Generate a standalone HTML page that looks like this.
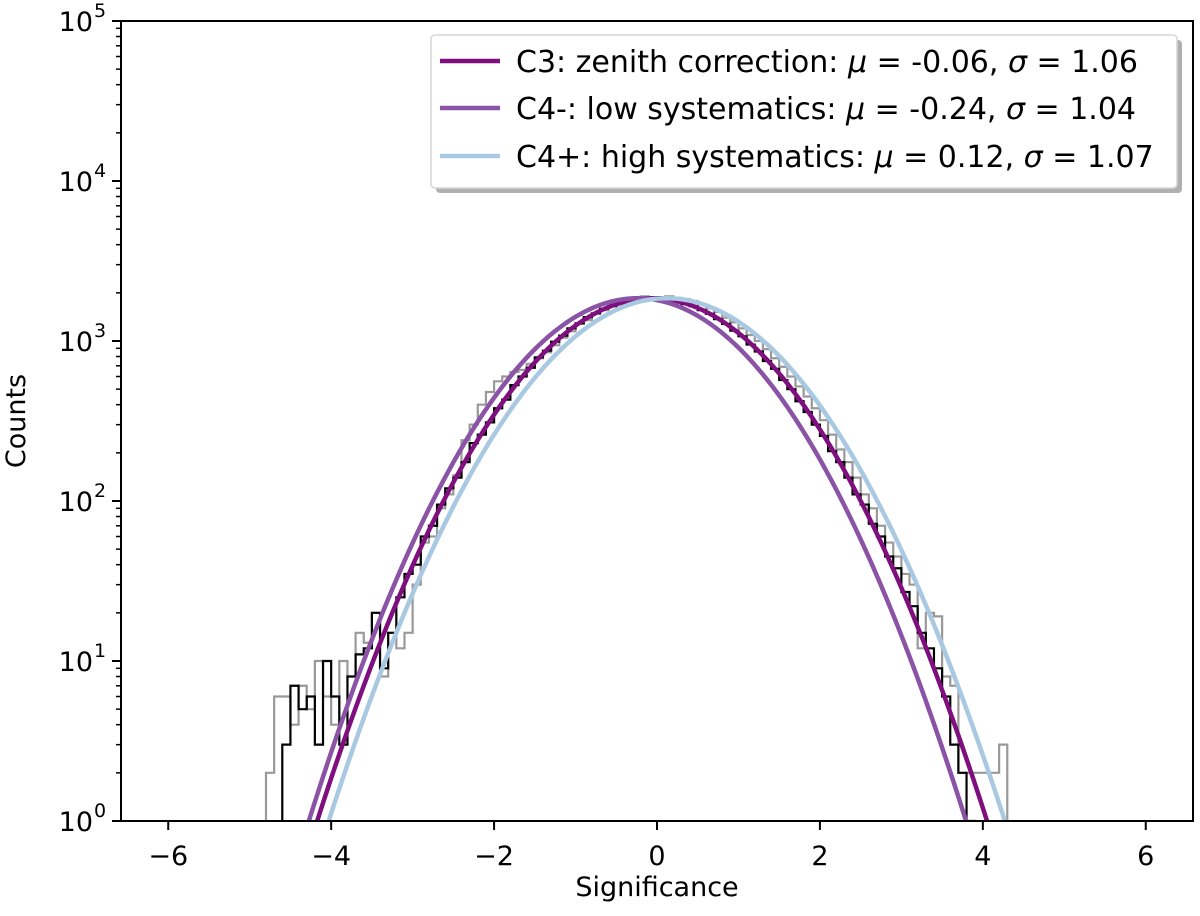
<!DOCTYPE html>
<html><head><meta charset="utf-8"><style>
body{margin:0;background:#fff}
svg{display:block;font-family:"DejaVu Sans","Liberation Sans",sans-serif}
</style></head><body>
<svg id="chart" width="1200" height="916" viewBox="0 0 1200 916" xmlns="http://www.w3.org/2000/svg">
<g id="plot"></g>
<g id="axes"></g>
<g id="legend"></g>
</svg>
<script>
const binStart = -4.8;
const binWidth = 0.1;
const blackCounts = [0,0,3,7,5,6,3,10,6,3,8,11,12,20,9,15,25,35,
40,60,70,95,120,140,175,230,260,310,380,430,530,600,680,790,870,990,1080,1200,1290,1410,1490,1590,1650,1740,1770,1830,1840,1860,
1880,1820,1780,1700,1650,1560,1480,1370,1280,1160,1070,950,860,750,670,570,500,420,360,300,255,205,175,140,110,95,72,60,45,38,27,22,15,12,9,6,3,2,1,0,0,0,0];
const grayCounts = [2,6,6,4,7,5,10,6,4,10,8,15,13,20,8,15,12,15,
30,55,60,90,110,145,240,300,400,480,560,600,640,660,720,780,850,940,1050,1150,1280,1350,1480,1560,1650,1700,1760,1850,1900,1880,
1850,1900,1860,1830,1780,1700,1600,1520,1400,1310,1200,1090,1000,890,780,690,600,520,450,380,320,260,210,175,140,110,90,70,55,45,35,30,12,20,19,8,7,2,2,2,2,2,3];
const fitNames = ["C3: zenith correction","C4-: low systematics","C4+: high systematics"];
const fitMu = [-0.06,-0.24,0.12];
const fitSigma = [1.06,1.04,1.07];
const fitAmp = [1850,1850,1850];
const fitColors = ["#7f0f7e","#8a53a6","#a9c9e2"];
const xTicks = [-6,-4,-2,0,2,4,6];
const yDecades = [0,1,2,3,4,5];

const L=121,R=1193,T=21,B=821;
const xMin=-6.58,xMax=6.58;
const X=v=>L+(v-xMin)/(xMax-xMin)*(R-L);
const Y=c=>B-(Math.log10(c)-0)/5*(B-T);
const Yc=c=>c<=0?B+2:Math.min(B+2,Y(c));
const NS="http://www.w3.org/2000/svg";
function mk(p,tag,attrs){const e=document.createElementNS(NS,tag);for(const k in attrs)e.setAttribute(k,attrs[k]);p.appendChild(e);return e;}
const plot=document.getElementById('plot'),axes=document.getElementById('axes'),leg=document.getElementById('legend');

function stepPath(counts){
  let d='';let started=false;
  for(let i=0;i<counts.length;i++){
    const x0=X(binStart+i*binWidth),x1=X(binStart+(i+1)*binWidth),y=Yc(counts[i]);
    if(!started){d+=`M${x0},${B+2}L${x0},${y}`;started=true;} else d+=`L${x0},${y}`;
    d+=`L${x1},${y}`;
  }
  d+=`L${X(binStart+counts.length*binWidth)},${B+2}`;
  return d;
}
const clip=mk(document.getElementById('chart'),'clipPath',{id:'clipArea'});
mk(clip,'rect',{x:L,y:T,width:R-L,height:B-T});
plot.setAttribute('clip-path','url(#clipArea)');
const gh=mk(plot,'path',{d:stepPath(grayCounts),fill:'none',stroke:'#999','stroke-width':2.2});


const bh=mk(plot,'path',{d:stepPath(blackCounts),fill:'none',stroke:'#000','stroke-width':2.2});



[0,1,2].forEach(k=>{
  let d='';
  for(let v=-6.6;v<=6.6;v+=0.02){
    const c=fitAmp[k]*Math.exp(-Math.pow(v-fitMu[k],2)/(2*fitSigma[k]*fitSigma[k]));
    if(c<0.5)continue;
    d+=(d?'L':'M')+X(v).toFixed(2)+','+Y(c).toFixed(2);
  }
  const p=mk(plot,'path',{d:d,fill:'none',stroke:fitColors[k],'stroke-width':4.5});
  
  
});

const fr=mk(axes,'rect',{x:L,y:T,width:R-L,height:B-T,fill:'none',stroke:'#000','stroke-width':2});


xTicks.forEach(t=>{
  mk(axes,'line',{x1:X(t),x2:X(t),y1:B,y2:B+9,stroke:'#000','stroke-width':2});
  const tx=mk(axes,'text',{x:X(t),y:B+44,'font-size':27,'text-anchor':'middle',fill:'#000'});
  tx.textContent=(t<0?'\u2212':'')+Math.abs(t);
  
  
});
yDecades.forEach(dc=>{
  const y=Y(Math.pow(10,dc));
  mk(axes,'line',{x1:L-9,x2:L,y1:y,y2:y,stroke:'#000','stroke-width':2});
  const tx=mk(axes,'text',{x:L-28,y:y+10,'font-size':27,'text-anchor':'end',fill:'#000'});
  tx.textContent='10';
  
  
  const sp=mk(axes,'text',{x:L-27,y:y-4,'font-size':19,'text-anchor':'start',fill:'#000'});
  sp.textContent=String(dc);
  if(dc<5){for(let m=2;m<=9;m++){const ym=Y(m*Math.pow(10,dc));mk(axes,'line',{x1:L-5,x2:L,y1:ym,y2:ym,stroke:'#000','stroke-width':1.5});}}
});
const xl=mk(axes,'text',{x:657,y:896,'font-size':27,'text-anchor':'middle',fill:'#000'});
xl.textContent='Significance';


const yl=mk(axes,'text',{x:0,y:0,'font-size':27,'text-anchor':'middle',fill:'#000',transform:'translate(25,421) rotate(-90)'});
yl.textContent='Counts';



mk(leg,'rect',{x:436,y:40,width:746,height:153,rx:4,fill:'#b0b0b0'});
const lb=mk(leg,'rect',{x:431,y:35,width:746,height:153,rx:4,fill:'#fff',stroke:'#d6d6d6','stroke-width':1.5});


const rowsY=[61,108,156];
const muTxt=["-0.06","-0.24","0.12"],sgTxt=["1.06","1.04","1.07"];
fitNames.forEach((n,k)=>{
  const g=mk(leg,'g',{});
  
  
  mk(g,'line',{x1:440,x2:500,y1:rowsY[k],y2:rowsY[k],stroke:fitColors[k],'stroke-width':4.5});
  const t=mk(g,'text',{x:516,y:rowsY[k]+11,'font-size':30,fill:'#000'});
  t.innerHTML=n+': <tspan font-style="italic">\u03bc</tspan> = '+muTxt[k]+', <tspan font-style="italic">\u03c3</tspan> = '+sgTxt[k];
});
</script>
</body></html>
